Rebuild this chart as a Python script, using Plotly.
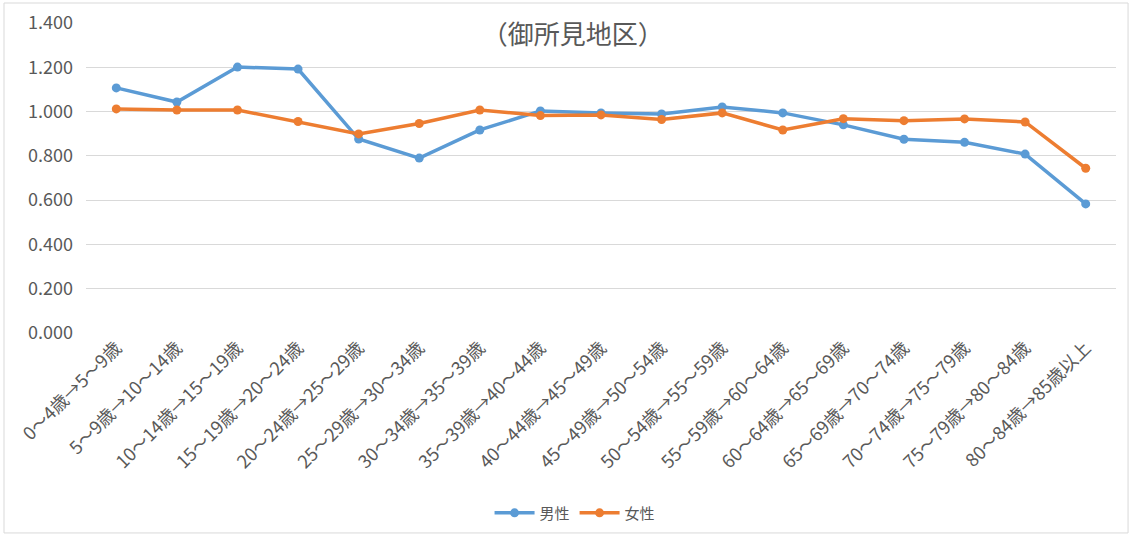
import plotly.graph_objects as go

categories = ["0～4歳→5～9歳", "5～9歳→10～14歳", "10～14歳→15～19歳", "15～19歳→20～24歳",
              "20～24歳→25～29歳", "25～29歳→30～34歳", "30～34歳→35～39歳", "35～39歳→40～44歳",
              "40～44歳→45～49歳", "45～49歳→50～54歳", "50～54歳→55～59歳", "55～59歳→60～64歳",
              "60～64歳→65～69歳", "65～69歳→70～74歳", "70～74歳→75～79歳", "75～79歳→80～84歳",
              "80～84歳→85歳以上"]
male = [1.107, 1.043, 1.201, 1.192, 0.876, 0.790, 0.917, 1.003, 0.994, 0.989, 1.021, 0.994,
        0.940, 0.875, 0.861, 0.808, 0.583]
female = [1.012, 1.007, 1.007, 0.955, 0.899, 0.946, 1.007, 0.982, 0.985, 0.964, 0.994, 0.917,
          0.968, 0.959, 0.967, 0.953, 0.744]
y_ticks = [0.0, 0.2, 0.4, 0.6, 0.8, 1.0, 1.2, 1.4]
y_ticklabels = ["0.000", "0.200", "0.400", "0.600", "0.800", "1.000", "1.200", "1.400"]

font_family = "Noto Sans CJK JP, Noto Sans, sans-serif"
grey = "#595959"

fig = go.Figure()
fig.add_trace(go.Scatter(x=categories, y=male, name="男性", mode="lines+markers",
                         line=dict(color="#5B9BD5", width=3.5),
                         marker=dict(color="#5B9BD5", size=9)))
fig.add_trace(go.Scatter(x=categories, y=female, name="女性", mode="lines+markers",
                         line=dict(color="#ED7D31", width=3.5),
                         marker=dict(color="#ED7D31", size=9)))

fig.update_layout(
    width=1132, height=535,
    paper_bgcolor="white", plot_bgcolor="white",
    margin=dict(l=86, r=16, t=23, b=202),
    font=dict(family=font_family, color=grey, size=14),
    title=dict(text="（御所見地区）", x=0.506, xanchor="center", y=0.935, yanchor="middle",
               font=dict(size=26, color=grey, family=font_family)),
    xaxis=dict(type="category", range=[-0.5, 16.5], tickangle=-45, showgrid=False, showline=False,
               ticks="", tickfont=dict(size=18, color=grey), automargin=False),
    yaxis=dict(range=[0, 1.4], tickvals=y_ticks, ticktext=y_ticklabels,
               showgrid=True, gridcolor="#d9d9d9", gridwidth=1, zeroline=False,
               showline=False, ticks="", tickfont=dict(size=18, color=grey),
               ticklabelstandoff=12, automargin=False),
    legend=dict(orientation="h", x=0.508, xref="container", xanchor="center",
                y=0.041, yref="container", yanchor="middle",
                font=dict(size=15, color=grey), itemwidth=40),
    shapes=[dict(type="rect", xref="paper", yref="paper",
                 x0=-0.0796, x1=1.0117, y0=-0.645, y1=1.0645,
                 line=dict(color="#d9d9d9", width=1), fillcolor="rgba(0,0,0,0)", layer="below")],
)

fig.write_html("out.html", config={"displayModeBar": False},
               post_script="document.body.style.margin='0px';document.body.style.overflow='hidden';")
